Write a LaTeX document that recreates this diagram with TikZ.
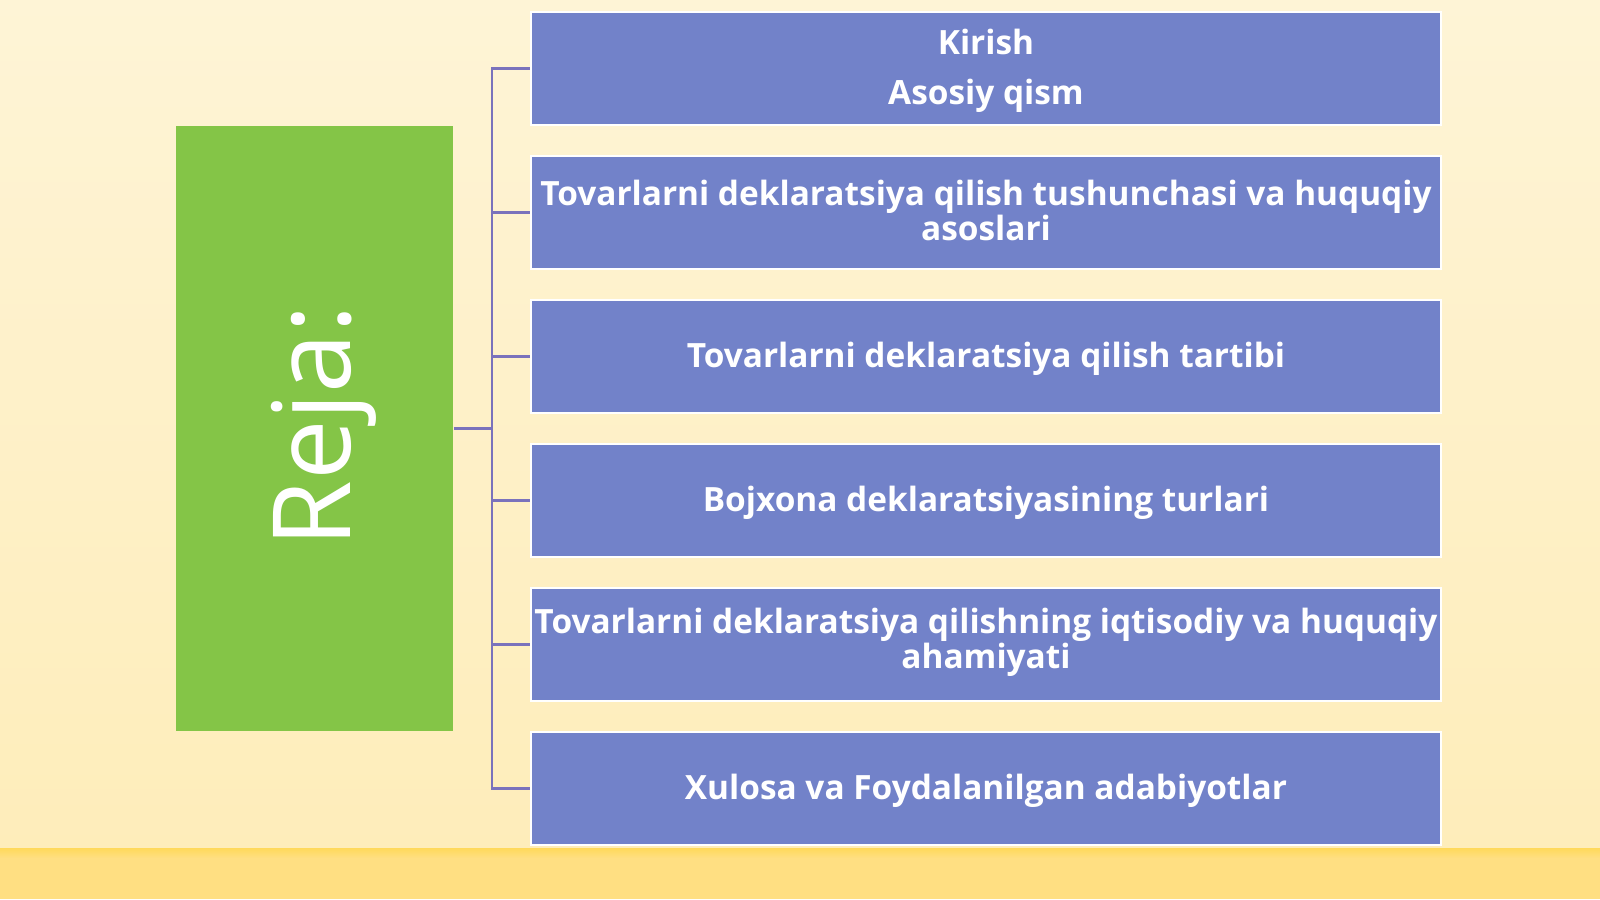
\documentclass[tikz,border=0pt]{standalone}
\usepackage{fontspec}
\setmainfont{Open Sans}
\newfontfamily\boldsans{Open Sans}[UprightFont=* Bold]
\definecolor{bgtop}{HTML}{FEF4D6}
\definecolor{bgbot}{HTML}{FEEDBA}
\definecolor{band}{HTML}{FFDF82}
\definecolor{bandline}{HTML}{FFD95A}
\definecolor{greenbox}{HTML}{84C547}
\definecolor{bluebox}{HTML}{7282C9}
\definecolor{conn}{HTML}{7A72BC}
\tikzset{
  item/.style={draw=white, line width=0.6pt, fill=bluebox, minimum width=9.1cm, minimum height=1.13cm,
    inner sep=0pt, text=white, align=center, font=\boldsans\fontsize{9.5}{10}\selectfont},
  oneline/.style={text height=8.34pt, text depth=2.3pt},
  link/.style={draw=conn, line width=0.6pt}
}
\begin{document}
\begin{tikzpicture}[x=0.01cm,y=-0.01cm]
\useasboundingbox (0,0) rectangle (1600,899);
\shade[top color=bgtop, bottom color=bgbot] (0,0) rectangle (1600,850);
\fill[band] (0,850) rectangle (1600,899);
\shade[top color=bandline, bottom color=band] (0,848) rectangle (1600,858);
\node[fill=greenbox, minimum width=2.77cm, minimum height=6.05cm, inner sep=0pt] (reja) at (314.5,428.5) {};
\node[rotate=90, text=white, font=\fontsize{30.7}{32}\selectfont, inner sep=0pt] (rejat) at (324,426) {Reja:};
\node[item] (b1) at (986,68.5) {Kirish\rule{0pt}{8.6pt}\\[4.15pt]Asosiy qism};
\node[item] (b2) at (986,212.5) {Tovarlarni deklaratsiya qilish tushunchasi va huquqiy\\asoslari\rule[-1.14pt]{0pt}{1pt}};
\node[item, oneline] (b3) at (986,356.5) {Tovarlarni deklaratsiya qilish tartibi};
\node[item, oneline] (b4) at (986,500.5) {Bojxona deklaratsiyasining turlari};
\node[item] (b5) at (986,644.5) {Tovarlarni deklaratsiya qilishning iqtisodiy va huquqiy\\ahamiyati\rule[-3.45pt]{0pt}{1pt}};
\node[item, oneline] (b6) at (986,788.5) {Xulosa va Foydalanilgan adabiyotlar};
\coordinate (j) at (492,428.5);
\draw[link] (reja.east) -- (j);
\foreach \b in {b1,b2,b3,b4,b5,b6}{
  \draw[link] (j) |- (\b.west);
}
\end{tikzpicture}
\end{document}
